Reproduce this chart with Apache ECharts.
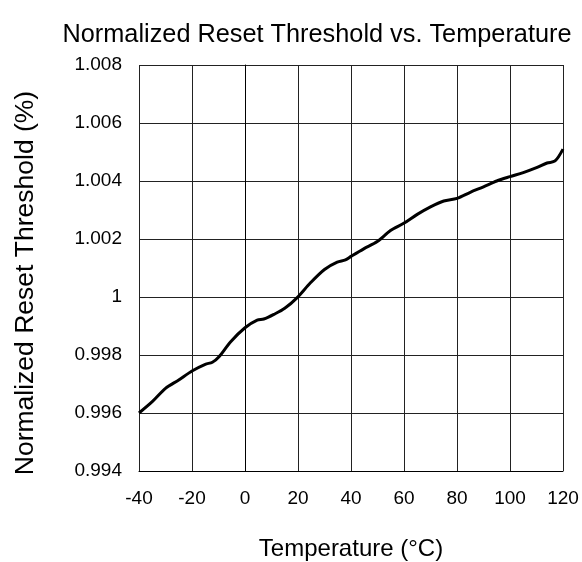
<!DOCTYPE html>
<html>
<head>
<meta charset="utf-8">
<script src="https://cdn.jsdelivr.net/npm/echarts@6/dist/echarts.min.js"></script>
<style>
  html, body { margin: 0; padding: 0; background: #fff; }
  #main { width: 582px; height: 562px; }
</style>
</head>
<body>
<div id="main"></div>
<script>
  // temperature (°C) and normalized reset threshold
  const temps = [-40, -35, -30, -25, -20, -15, -12.3, -9.8, -5.4, 0, 4.6, 7.1, 10.9, 15, 19.7,
    24.7, 30, 34.8, 37.9, 40, 44.8, 49.9, 54.9, 59.9, 65, 70, 75, 80, 85, 90, 95, 100, 105, 110, 114, 117, 120]
  const threshold = [0.99600, 0.99639, 0.99685, 0.99714, 0.99745, 0.99768, 0.99775, 0.99794, 0.99846,
    0.99894, 0.99920, 0.99924, 0.99940, 0.99961, 0.99998, 1.00049, 1.00095, 1.00120, 1.00128,
    1.00140, 1.00166, 1.00191, 1.00229, 1.00254, 1.00285, 1.00311, 1.00331, 1.00340, 1.00361,
    1.00380, 1.00400, 1.00415, 1.00429, 1.00446, 1.00462, 1.00469, 1.00510]
  const yTicks = [0.994, 0.996, 0.998, 1, 1.002, 1.004, 1.006, 1.008]

  const font = 'Liberation Sans, Arial, sans-serif'
  let myechart = echarts.init(document.getElementById('main'))
  let option = {
    animation: false,
    title: {
      text: 'Normalized Reset Threshold vs. Temperature',
      left: 312,
      textAlign: 'center',
      top: 18,
      textStyle: { fontFamily: font, fontSize: 25.3, fontWeight: 'normal', color: '#000' }
    },
    grid: { left: 139, right: 19, top: 65, bottom: 91, outerBoundsMode: 'none' },
    xAxis: {
      type: 'value',
      min: -40,
      max: 120,
      interval: 20,
      name: 'Temperature (°C)',
      nameLocation: 'middle',
      nameGap: 66,
      nameTextStyle: { fontFamily: font, fontSize: 24, color: '#000' },
      axisLine: { show: true, lineStyle: { color: '#000', width: 1 } },
      axisTick: { show: false },
      axisLabel: { fontFamily: font, fontSize: 19, color: '#000', margin: 18 },
      splitLine: { show: true, lineStyle: { color: '#222', width: 1 } }
    },
    yAxis: {
      type: 'value',
      min: 0.994,
      max: 1.008,
      interval: 0.002,
      name: 'Normalized Reset Threshold (%)',
      nameLocation: 'middle',
      nameGap: 100,
      nameTextStyle: { fontFamily: font, fontSize: 26.5, color: '#000', padding: [0, 30, 0, 0] },
      axisLine: { show: true, lineStyle: { color: '#000', width: 1 } },
      axisTick: { show: false },
      axisLabel: {
        fontFamily: font, fontSize: 19, color: '#000', margin: 17,
        formatter: v => {
          let t = yTicks.find(k => Math.abs(k - v) < 1e-9)
          return t === undefined ? '' : String(t)
        }
      },
      splitLine: { show: true, lineStyle: { color: '#222', width: 1 } }
    },
    series: [{
      type: 'line',
      data: temps.map((t, i) => [t, threshold[i]]),
      symbol: 'none',
      smooth: 0.3,
      lineStyle: { color: '#000', width: 3 }
    }]
  }
  myechart.setOption(option)
</script>
</body>
</html>
